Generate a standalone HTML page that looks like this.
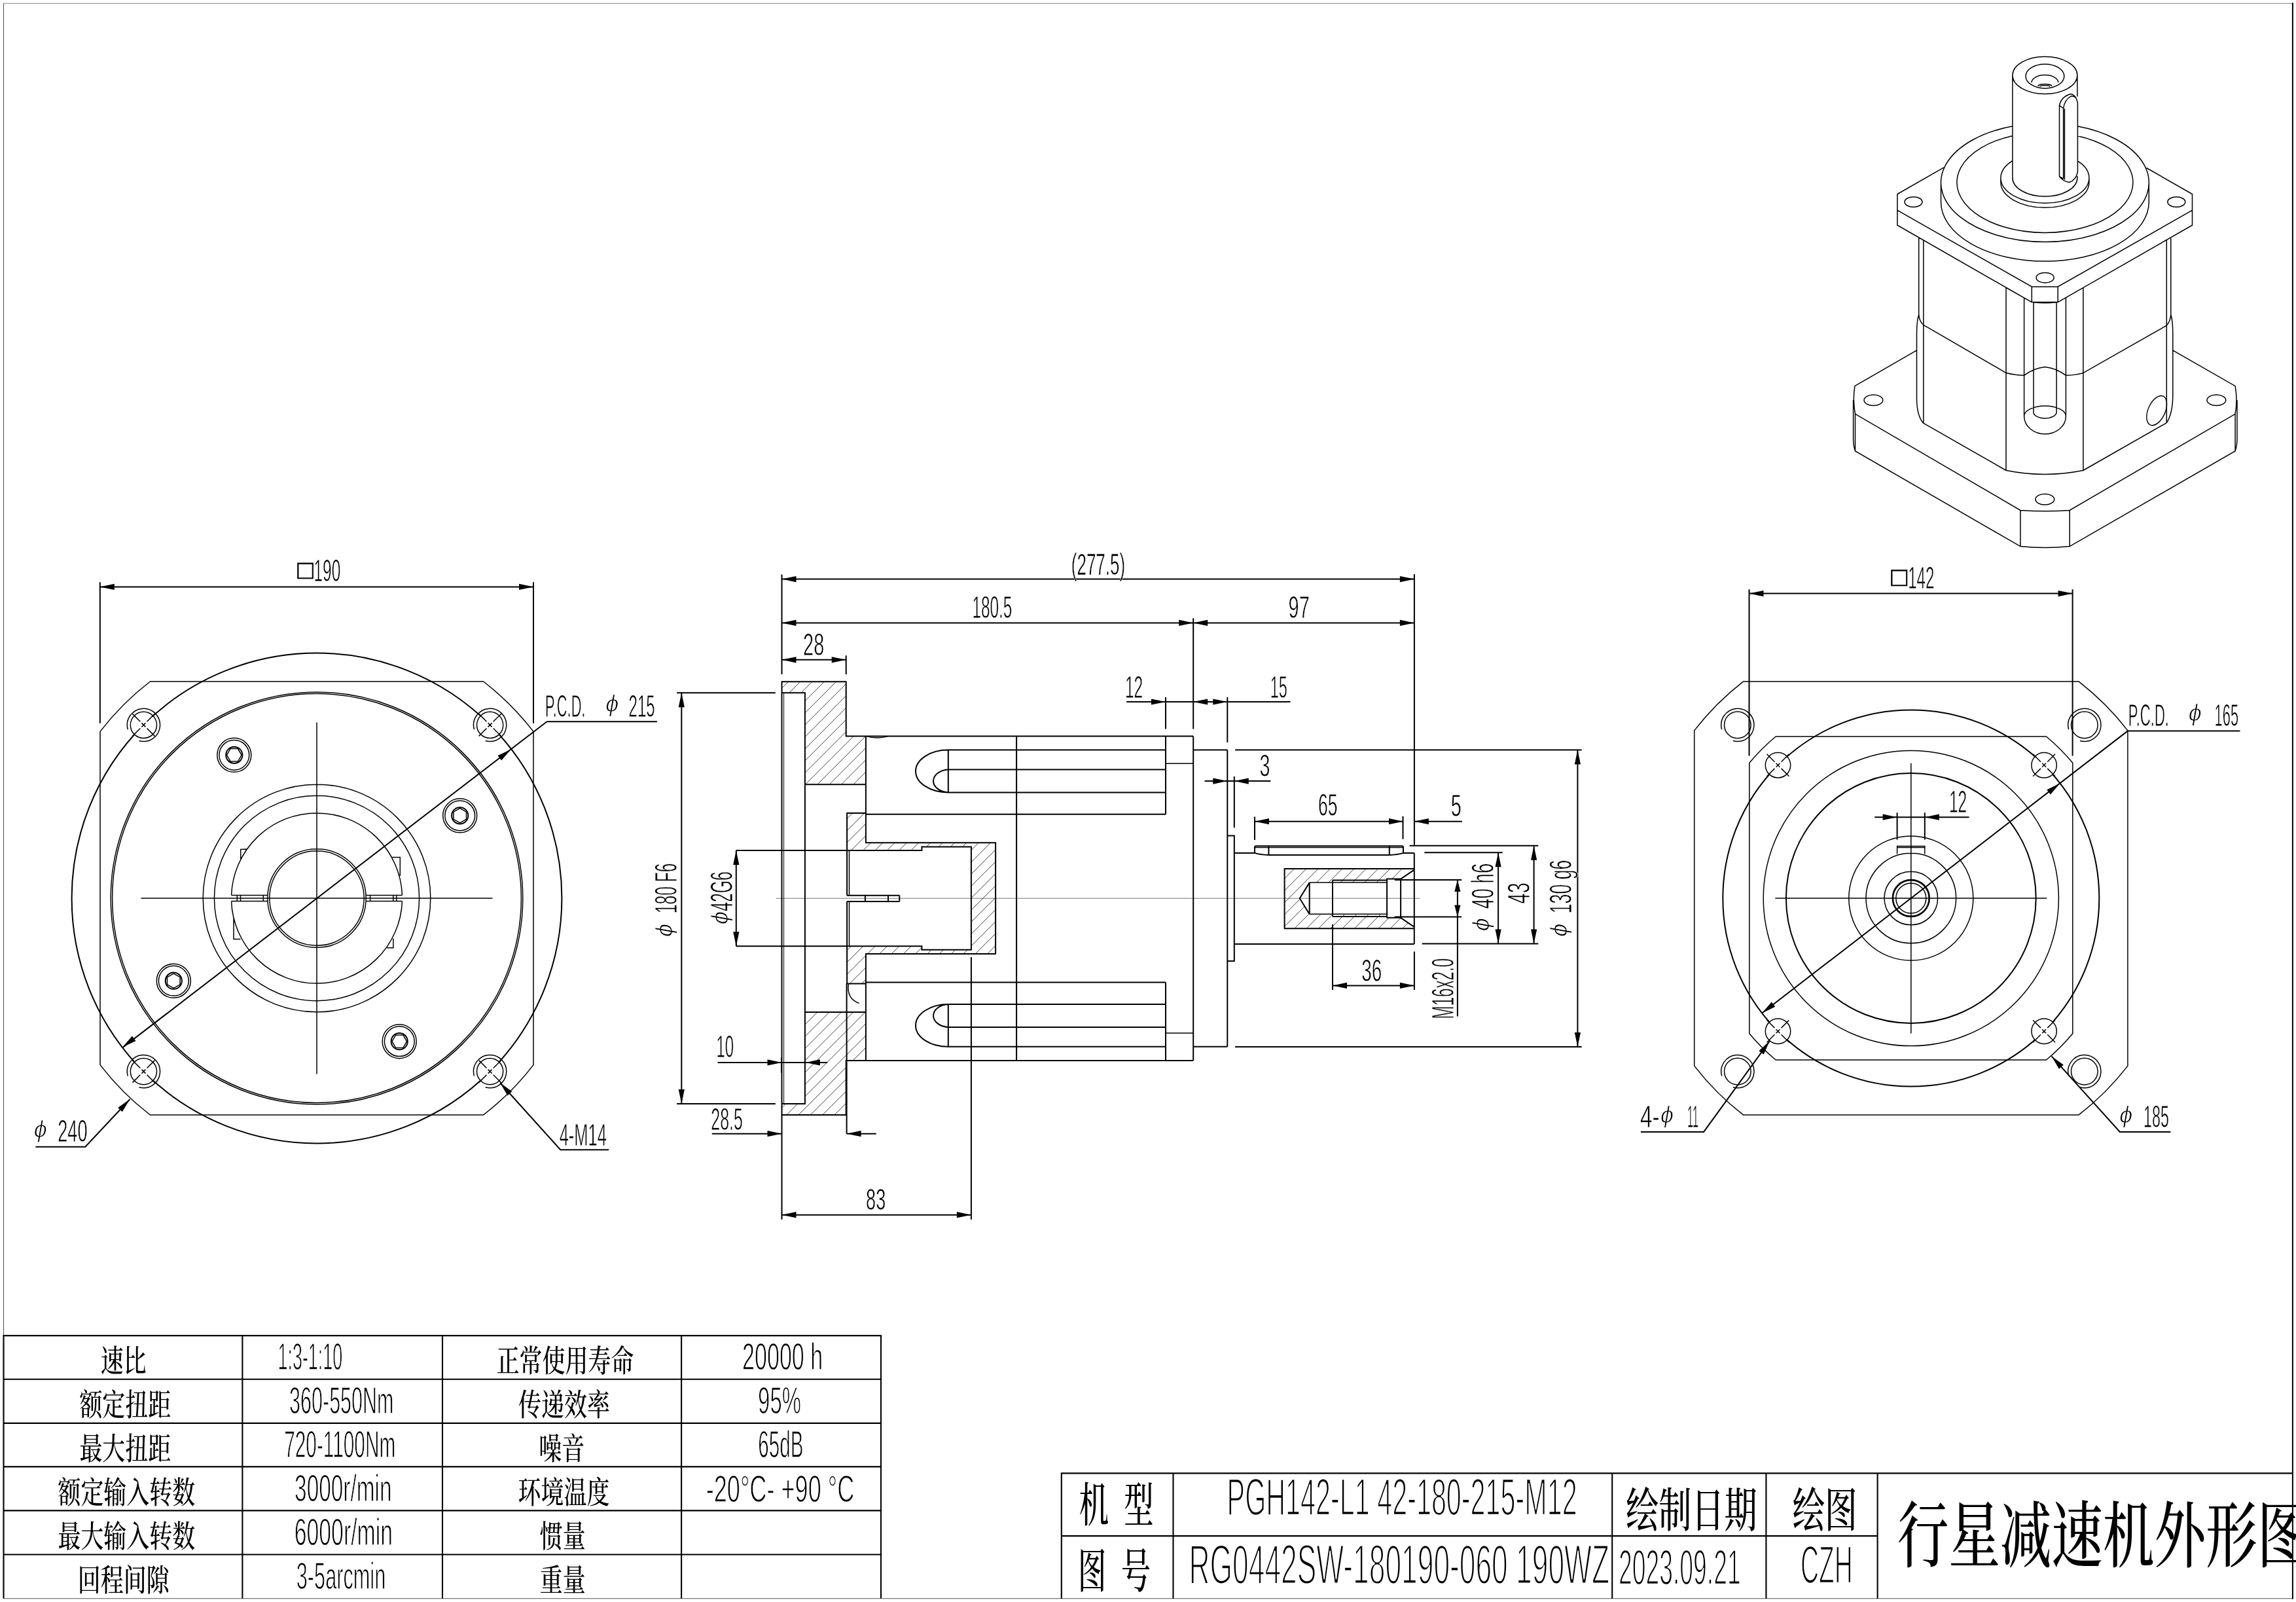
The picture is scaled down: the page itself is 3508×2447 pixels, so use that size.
<!DOCTYPE html>
<html lang="zh"><head><meta charset="utf-8"><title>行星减速机外形图</title>
<style>
html,body{margin:0;padding:0;background:#fff}
svg{display:block}
.t{font-family:"Liberation Sans",sans-serif;fill:#000;stroke:#fff}
.ph{stroke-width:0.9px}
.sq{font-family:"Liberation Sans","DejaVu Sans",sans-serif;fill:#000;stroke:#000;stroke-width:0.7px}
.c{font-family:"Liberation Serif","Noto Serif CJK SC",serif;fill:#000;font-weight:500}

</style></head><body>
<svg width="3508" height="2447" viewBox="0 0 3508 2447">
<rect width="3508" height="2447" fill="#fff"/>
<defs><clipPath id="h1"><path clip-rule="evenodd" d="M1194.5 1041.3L1292.7 1041.3L1292.7 1124.4L1322.9 1124.4L1322.9 1198.3L1229.9 1198.3L1229.9 1058.3L1194.5 1058.3Z"/></clipPath>
<clipPath id="h2"><path clip-rule="evenodd" d="M1194.5 1703.1L1292.7 1703.1L1292.7 1620L1322.9 1620L1322.9 1546.1L1229.9 1546.1L1229.9 1686.1L1194.5 1686.1Z"/></clipPath>
<clipPath id="h3"><path clip-rule="evenodd" d="M1294.1 1241.9L1322.9 1241.9L1322.9 1287.3L1521.1 1287.3L1521.1 1457.1L1322.9 1457.1L1322.9 1502.5L1294.1 1502.5L1294.1 1445.3L1408.4 1445.3L1408.4 1450.8L1483.9 1450.8L1483.9 1293.6L1408.4 1293.6L1408.4 1299.1L1294.1 1299.1Z"/></clipPath>
<clipPath id="h4"><path clip-rule="evenodd" d="M1962.6 1327.1L2160.8 1327.1L2160.8 1418.3L1962.6 1418.3ZM1985.8 1372.2L2000.7 1348.1L2119.1 1348.1L2119.1 1342.6L2140.1 1342.6L2160.8 1328.6L2160.8 1415.8L2140.1 1401.8L2119.1 1401.8L2119.1 1396.3L2000.7 1396.3Z"/></clipPath></defs>
<path fill="none" stroke="#000" stroke-width="2" d="M109.6 1372a374.4 374.4 0 1 0 748.8 0a374.4 374.4 0 1 0 -748.8 0M2632.3 1372a287.5 287.5 0 1 0 575 0a287.5 287.5 0 1 0 -575 0"/>
<path fill="#fff" stroke="none" d="M199.3 1107.4a20.1 20.1 0 1 0 40.2 0a20.1 20.1 0 1 0 -40.2 0M199.3 1636.6a20.1 20.1 0 1 0 40.2 0a20.1 20.1 0 1 0 -40.2 0M728.5 1107.4a20.1 20.1 0 1 0 40.2 0a20.1 20.1 0 1 0 -40.2 0M728.5 1636.6a20.1 20.1 0 1 0 40.2 0a20.1 20.1 0 1 0 -40.2 0M2697.3 1168.8a19.2 19.2 0 1 0 38.4 0a19.2 19.2 0 1 0 -38.4 0M2697.3 1575.2a19.2 19.2 0 1 0 38.4 0a19.2 19.2 0 1 0 -38.4 0M3103.9 1168.8a19.2 19.2 0 1 0 38.4 0a19.2 19.2 0 1 0 -38.4 0M3103.9 1575.2a19.2 19.2 0 1 0 38.4 0a19.2 19.2 0 1 0 -38.4 0"/>
<path d="M5.5 2441.7V5" stroke="#5a5a5a" stroke-width="1.1" fill="none"/>
<path d="M5 5.3H3503" stroke="#808080" stroke-width="1.1" fill="none"/>
<path d="M5.5 2441.7H3503" stroke="#777" stroke-width="1.2" fill="none"/>
<path d="M3502.9 4.3V2442.5" stroke="#000" stroke-width="2" fill="none"/>
<path clip-path="url(#h1)" fill="none" stroke="#000" stroke-width="0.75" d="M1047.4 1198.3L1204.4 1041.3M1065.7 1198.3L1222.7 1041.3M1084 1198.3L1241 1041.3M1102.3 1198.3L1259.3 1041.3M1120.6 1198.3L1277.6 1041.3M1138.9 1198.3L1295.9 1041.3M1157.2 1198.3L1314.2 1041.3M1175.5 1198.3L1332.5 1041.3M1193.8 1198.3L1350.8 1041.3M1212.1 1198.3L1369.1 1041.3M1230.4 1198.3L1387.4 1041.3M1248.7 1198.3L1405.7 1041.3M1267 1198.3L1424 1041.3M1285.3 1198.3L1442.3 1041.3M1303.6 1198.3L1460.6 1041.3M1321.9 1198.3L1478.9 1041.3"/>
<path clip-path="url(#h2)" fill="none" stroke="#000" stroke-width="0.75" d="M1055.2 1703.1L1212.2 1546.1M1073.5 1703.1L1230.5 1546.1M1091.8 1703.1L1248.8 1546.1M1110.1 1703.1L1267.1 1546.1M1128.4 1703.1L1285.4 1546.1M1146.7 1703.1L1303.7 1546.1M1165 1703.1L1322 1546.1M1183.3 1703.1L1340.3 1546.1M1201.6 1703.1L1358.6 1546.1M1219.9 1703.1L1376.9 1546.1M1238.2 1703.1L1395.2 1546.1M1256.5 1703.1L1413.5 1546.1M1274.8 1703.1L1431.8 1546.1M1293.1 1703.1L1450.1 1546.1M1311.4 1703.1L1468.4 1546.1"/>
<path clip-path="url(#h3)" fill="none" stroke="#000" stroke-width="0.75" d="M1042 1502.5L1302.6 1241.9M1060.3 1502.5L1320.9 1241.9M1078.6 1502.5L1339.2 1241.9M1096.9 1502.5L1357.5 1241.9M1115.2 1502.5L1375.8 1241.9M1133.5 1502.5L1394.1 1241.9M1151.8 1502.5L1412.4 1241.9M1170.1 1502.5L1430.7 1241.9M1188.4 1502.5L1449 1241.9M1206.7 1502.5L1467.3 1241.9M1225 1502.5L1485.6 1241.9M1243.3 1502.5L1503.9 1241.9M1261.6 1502.5L1522.2 1241.9M1279.9 1502.5L1540.5 1241.9M1298.2 1502.5L1558.8 1241.9M1316.5 1502.5L1577.1 1241.9M1334.8 1502.5L1595.4 1241.9M1353.1 1502.5L1613.7 1241.9M1371.4 1502.5L1632 1241.9M1389.7 1502.5L1650.3 1241.9M1408 1502.5L1668.6 1241.9M1426.3 1502.5L1686.9 1241.9M1444.6 1502.5L1705.2 1241.9M1462.9 1502.5L1723.5 1241.9M1481.2 1502.5L1741.8 1241.9M1499.5 1502.5L1760.1 1241.9M1517.8 1502.5L1778.4 1241.9"/>
<path clip-path="url(#h4)" fill="none" stroke="#000" stroke-width="0.75" d="M1886.3 1418.3L1977.5 1327.1M1904.6 1418.3L1995.8 1327.1M1922.9 1418.3L2014.1 1327.1M1941.2 1418.3L2032.4 1327.1M1959.5 1418.3L2050.7 1327.1M1977.8 1418.3L2069 1327.1M1996.1 1418.3L2087.3 1327.1M2014.4 1418.3L2105.6 1327.1M2032.7 1418.3L2123.9 1327.1M2051 1418.3L2142.2 1327.1M2069.3 1418.3L2160.5 1327.1M2087.6 1418.3L2178.8 1327.1M2105.9 1418.3L2197.1 1327.1M2124.2 1418.3L2215.4 1327.1M2142.5 1418.3L2233.7 1327.1"/>
<path fill="none" stroke="#000" stroke-width="1" d="M1197.6 1058.3L1197.6 1686.1"/>
<circle cx="2919.8" cy="1372" r="27.9" fill="none" stroke="#000" stroke-width="2.6"/>
<ellipse cx="3295.2" cy="627.1" rx="13" ry="24" transform="rotate(24 3295.2 627.1)" fill="none" stroke="#000" stroke-width="1.4"/>
<path fill="none" stroke="#000" stroke-width="2.1" d="M5.5 2039.1L5.5 2441.6M370.4 2039.1L370.4 2441.6M676 2039.1L676 2441.6M1041.1 2039.1L1041.1 2441.6M1346 2039.1L1346 2441.6M4.5 2040.1L1347 2040.1M4.5 2106.8L1347 2106.8M4.5 2173.9L1347 2173.9M4.5 2240.4L1347 2240.4M4.5 2307.4L1347 2307.4M4.5 2374.5L1347 2374.5M1621.8 2250.4L3504 2250.4M1621.8 2249.4L1621.8 2441.7M1621.8 2346.1L2868.6 2346.1M1792.5 2250.4L1792.5 2441.7M2463.2 2250.4L2463.2 2441.7M2698.4 2250.4L2698.4 2441.7M2868.6 2250.4L2868.6 2441.7"/>
<path fill="none" stroke="#000" stroke-width="0.55" d="M1185.6 1372.2L2169.3 1372.2"/>
<path fill="none" stroke="#000" stroke-width="1.5" d="M229.4 1041L738.6 1041A417.6 417.6 0 0 1 815 1117.4L815 1626.6A417.6 417.6 0 0 1 738.6 1703L229.4 1703A417.6 417.6 0 0 1 153 1626.6L153 1117.4A417.6 417.6 0 0 1 229.4 1041ZM169.2 1372a314.8 314.8 0 1 0 629.6 0a314.8 314.8 0 1 0 -629.6 0M171.6 1372a312.4 312.4 0 1 0 624.8 0a312.4 312.4 0 1 0 -624.8 0M310.2 1372a173.8 173.8 0 1 0 347.6 0a173.8 173.8 0 1 0 -347.6 0M327.4 1372a156.6 156.6 0 1 0 313.2 0a156.6 156.6 0 1 0 -313.2 0M408.8 1372a75.2 75.2 0 1 0 150.4 0a75.2 75.2 0 1 0 -150.4 0M411.8 1372a72.2 72.2 0 1 0 144.4 0a72.2 72.2 0 1 0 -144.4 0M353.5 1367.4A130.6 130.6 0 0 1 614.5 1367.4M614.5 1376.6A130.6 130.6 0 0 1 353.5 1376.6M353.5 1367.4L408.9 1367.4M559.1 1367.4L614.5 1367.4M353.5 1376.6L408.9 1376.6M559.1 1376.6L614.5 1376.6M362.3 1367.4L362.3 1376.6M367.5 1367.4L367.5 1376.6M402.3 1367.4L402.3 1376.6M565.6 1367.4L565.6 1376.6M600.8 1367.4L600.8 1376.6M605.7 1367.4L605.7 1376.6M367.7 1312L367.7 1297.5L376.7 1296.9M599.5 1309.5L611.3 1309.5L611.3 1338M357 1401.8L357 1434.5L367.3 1434.5M600.9 1433.6L600.9 1447.7L591.1 1447.7M215.5 1372L752.5 1372M484 1103.5L484 1640.5M199.3 1107.4a20.1 20.1 0 1 0 40.2 0a20.1 20.1 0 1 0 -40.2 0M195.3 1114.3A25.1 25.1 0 1 1 212.5 1131.5M224.5 1112.5L236.4 1124.4M224.5 1102.3L236.4 1090.4M214.3 1112.5L202.4 1124.4M214.3 1102.3L202.4 1090.4M216.4 1104.4L222.4 1110.4M216.4 1110.4L222.4 1104.4M199.3 1636.6a20.1 20.1 0 1 0 40.2 0a20.1 20.1 0 1 0 -40.2 0M195.3 1643.5A25.1 25.1 0 1 1 212.5 1660.7M224.5 1641.7L236.4 1653.6M224.5 1631.5L236.4 1619.6M214.3 1641.7L202.4 1653.6M214.3 1631.5L202.4 1619.6M216.4 1633.6L222.4 1639.6M216.4 1639.6L222.4 1633.6M728.5 1107.4a20.1 20.1 0 1 0 40.2 0a20.1 20.1 0 1 0 -40.2 0M724.5 1114.3A25.1 25.1 0 1 1 741.7 1131.5M753.7 1112.5L765.6 1124.4M753.7 1102.3L765.6 1090.4M743.5 1112.5L731.6 1124.4M743.5 1102.3L731.6 1090.4M745.6 1104.4L751.6 1110.4M745.6 1110.4L751.6 1104.4M728.5 1636.6a20.1 20.1 0 1 0 40.2 0a20.1 20.1 0 1 0 -40.2 0M724.5 1643.5A25.1 25.1 0 1 1 741.7 1660.7M753.7 1641.7L765.6 1653.6M753.7 1631.5L765.6 1619.6M743.5 1641.7L731.6 1653.6M743.5 1631.5L731.6 1619.6M745.6 1633.6L751.6 1639.6M745.6 1639.6L751.6 1633.6M676.7 1245.8a26 26 0 1 0 52 0a26 26 0 1 0 -52 0M679.8 1245.8a22.9 22.9 0 1 0 45.8 0a22.9 22.9 0 1 0 -45.8 0M712.5 1251.4L702.7 1257L692.9 1251.4L692.9 1240.1L702.7 1234.5L712.5 1240.1ZM331.8 1153.3a26 26 0 1 0 52 0a26 26 0 1 0 -52 0M334.9 1153.3a22.9 22.9 0 1 0 45.8 0a22.9 22.9 0 1 0 -45.8 0M352.1 1163.1L346.5 1153.3L352.1 1143.5L363.4 1143.5L369.1 1153.3L363.4 1163.1ZM239.3 1498.2a26 26 0 1 0 52 0a26 26 0 1 0 -52 0M242.4 1498.2a22.9 22.9 0 1 0 45.8 0a22.9 22.9 0 1 0 -45.8 0M255.5 1492.6L265.3 1487L275.1 1492.6L275.1 1503.9L265.3 1509.5L255.5 1503.9ZM584.2 1590.7a26 26 0 1 0 52 0a26 26 0 1 0 -52 0M587.4 1590.7a22.9 22.9 0 1 0 45.8 0a22.9 22.9 0 1 0 -45.8 0M615.9 1580.9L621.5 1590.7L615.9 1600.5L604.6 1600.5L599 1590.7L604.6 1580.9ZM1297.5 1299.1L1297.5 1367.8M1297.5 1376.9L1297.5 1445.3M1781 1166.3L1823.2 1166.3M1781 1578.1L1823.2 1578.1M1918 1294.4L2143 1294.4M2000.7 1348.1L2119.1 1348.1M2000.7 1396.3L2119.1 1396.3M1322.9 1124.4Q1340.3 1129.5 1357.8 1124.4M1296.5 1502.8Q1293 1525 1312.5 1532.5M2663.7 1040.9L3175.9 1040.9A418.6 418.6 0 0 1 3250.9 1115.9L3250.9 1628.1A418.6 418.6 0 0 1 3175.9 1703.1L2663.7 1703.1A418.6 418.6 0 0 1 2588.7 1628.1L2588.7 1115.9A418.6 418.6 0 0 1 2663.7 1040.9ZM2713.1 1125L3126.5 1125A322.1 322.1 0 0 1 3166.8 1165.3L3166.8 1578.7A322.1 322.1 0 0 1 3126.5 1619L2713.1 1619A322.1 322.1 0 0 1 2672.8 1578.7L2672.8 1165.3A322.1 322.1 0 0 1 2713.1 1125ZM2694.2 1372a225.6 225.6 0 1 0 451.2 0a225.6 225.6 0 1 0 -451.2 0M2824.8 1372a95 95 0 1 0 190 0a95 95 0 1 0 -190 0M2851 1372a68.8 68.8 0 1 0 137.6 0a68.8 68.8 0 1 0 -137.6 0M2879 1372a40.8 40.8 0 1 0 81.6 0a40.8 40.8 0 1 0 -81.6 0M2896.8 1372a23 23 0 1 0 46 0a23 23 0 1 0 -46 0M2712.3 1372L3127.3 1372M2919.8 1165.8L2919.8 1578.5M2634.5 1107.4a20.3 20.3 0 1 0 40.6 0a20.3 20.3 0 1 0 -40.6 0M2630.7 1114.3A25.1 25.1 0 1 1 2647.9 1131.5M2697.3 1168.8a19.2 19.2 0 1 0 38.4 0a19.2 19.2 0 1 0 -38.4 0M2721.6 1173.9L2733.5 1185.8M2721.6 1163.7L2733.5 1151.8M2711.4 1173.9L2699.5 1185.8M2711.4 1163.7L2699.5 1151.8M2713.5 1165.8L2719.5 1171.8M2713.5 1171.8L2719.5 1165.8M2634.5 1636.6a20.3 20.3 0 1 0 40.6 0a20.3 20.3 0 1 0 -40.6 0M2630.7 1643.5A25.1 25.1 0 1 1 2647.9 1660.7M2697.3 1575.2a19.2 19.2 0 1 0 38.4 0a19.2 19.2 0 1 0 -38.4 0M2721.6 1580.3L2733.5 1592.2M2721.6 1570.1L2733.5 1558.2M2711.4 1580.3L2699.5 1592.2M2711.4 1570.1L2699.5 1558.2M2713.5 1572.2L2719.5 1578.2M2713.5 1578.2L2719.5 1572.2M3164.5 1107.4a20.3 20.3 0 1 0 40.6 0a20.3 20.3 0 1 0 -40.6 0M3160.7 1114.3A25.1 25.1 0 1 1 3177.9 1131.5M3103.9 1168.8a19.2 19.2 0 1 0 38.4 0a19.2 19.2 0 1 0 -38.4 0M3128.2 1173.9L3140.1 1185.8M3128.2 1163.7L3140.1 1151.8M3118 1173.9L3106.1 1185.8M3118 1163.7L3106.1 1151.8M3120.1 1165.8L3126.1 1171.8M3120.1 1171.8L3126.1 1165.8M3164.5 1636.6a20.3 20.3 0 1 0 40.6 0a20.3 20.3 0 1 0 -40.6 0M3160.7 1643.5A25.1 25.1 0 1 1 3177.9 1660.7M3103.9 1575.2a19.2 19.2 0 1 0 38.4 0a19.2 19.2 0 1 0 -38.4 0M3128.2 1580.3L3140.1 1592.2M3128.2 1570.1L3140.1 1558.2M3118 1580.3L3106.1 1592.2M3118 1570.1L3106.1 1558.2M3120.1 1572.2L3126.1 1578.2M3120.1 1578.2L3126.1 1572.2M2898.6 1304.5L2898.6 1292.4L2940.8 1292.4L2940.8 1304.5M2898.6 1294.4L2940.8 1294.4M3074.9 115a49.5 28.4 0 1 0 99 0a49.5 28.4 0 1 0 -99 0M3095 116.4a29.4 18.5 0 1 0 58.8 0a29.4 18.5 0 1 0 -58.8 0M3104.1 125.9A20.3 11.5 0 0 1 3144.7 125.9M3113.9 131.8A10.5 3.2 0 1 1 3134.9 131.8M3116.9 132.6A7.5 2.2 0 0 1 3131.9 132.6M3074.9 115L3074.9 271.7M3173.9 115L3173.9 147.5M3173.9 269L3173.9 271.7M3173.9 271.7A49.5 28.4 0 0 1 3074.9 271.7M3146.5 269.6V161.1Q3149 148 3163.7 143.5Q3171.5 144.5 3174.4 157V262.7Q3172 275 3161.7 278.5Q3152 277 3146.5 269.6ZM3152.6 273V165.5Q3154.5 152 3164.4 146.8Q3169 146.8 3172.5 149.5M3154.4 274.5V166M3146.5 161.1L3152.6 165.5M3146.5 269.6L3152.6 273M3174 245.6A67.5 38.5 0 1 1 3074.8 245.6M3191.9 278.6A67.5 38.5 0 0 1 3056.9 278.6M3056.9 271.7L3056.9 278.6M3191.9 271.7L3191.9 278.6M3174 192.8A158.9 90.6 0 1 1 3074.8 192.8M3173.9 207.4A134.5 76.7 0 1 1 3074.9 207.4M3283.3 308.5A158.9 90.6 0 0 1 2965.5 308.5M2965.5 278.9L2965.5 308.5M3283.3 278.9L3283.3 308.5M2969.9 255.8L2898.9 296.5L2898.9 344L3104.3 461.6L3144.2 461.6L3349.5 344L3349.5 296.5L3279.6 256.5M2898.9 321.2L3104.3 437.9L3144.2 437.9L3349.5 321.2M3104.3 437.9L3104.3 461.6M3144.2 437.9L3144.2 461.6M2910 308.5a13.5 7.8 0 1 0 27 0a13.5 7.8 0 1 0 -27 0M3311.8 308.5a13.5 7.8 0 1 0 27 0a13.5 7.8 0 1 0 -27 0M3111.1 424.2a13.5 7.8 0 1 0 27 0a13.5 7.8 0 1 0 -27 0M2931.7 362.8L2931.7 480.5M2938.8 366.9L2938.8 646.4M2931.7 480.5Q2932.5 491 2938.8 496.3M2931.7 480.5Q2928.5 490 2928.5 510V610Q2929 636 2938.8 646.4M3316.8 362.8L3316.8 480.5M3310.3 366.9L3310.3 645.8M3316.8 480.5Q3316 491 3310.3 497.2M3316.8 480.5Q3319.8 490 3319.8 510V605Q3319.5 632 3310.3 645.8M2938.8 496.3L3065 569.6Q3080 573.5 3092.6 573.3Q3108 562 3124.4 560.4Q3141 562 3156.4 573.3Q3169 573.5 3182.9 569.6L3310.3 497.2M3065 439.4L3065 718.5M3182.9 439.4L3182.9 718.5M3065 439.4L3104.3 461.6M3182.9 439.4L3144.2 461.6M3065 718.5Q3124 730.5 3182.9 718.5M2938.8 646.4L3065 718.5M3182.9 718.5L3310.3 645.8M3092.6 455L3092.6 635.7M3156.4 455L3156.4 635.7M3156.4 635.7A31.9 27.3 0 0 1 3092.6 635.7M3092.6 635.7A31.9 15.8 0 0 1 3156.4 635.7M3107 461.8L3107 629.4M3142.1 461.8L3142.1 629.4M3142.1 629.4A17.6 9.5 0 0 1 3106.9 629.4M3107 461.8Q3124.5 463.5 3142.1 461.8M2928.5 535.1L2833.9 589.7M2833.9 589.7Q2830.5 611 2834.5 632.3L3086.9 779.4Q3124.5 782.2 3162.2 779.4L3415.1 632.3Q3419 611 3415.1 589.7L3319.8 535.1M2831.6 611V672Q2832 682 2834.5 688.9L3086.9 834.6Q3124.5 838.4 3162.2 834.6L3415.1 688.9Q3417.6 682 3418 672V611M2834.5 632.3L2834.5 688.9M3086.9 779.4L3086.9 834.6M3162.2 779.4L3162.2 834.6M3415.1 632.3L3415.1 688.9M2848 611.3a14.4 8.3 0 1 0 28.8 0a14.4 8.3 0 1 0 -28.8 0M3372 611.3a14.4 8.3 0 1 0 28.8 0a14.4 8.3 0 1 0 -28.8 0M3109.9 762.8a14.4 8.3 0 1 0 28.8 0a14.4 8.3 0 1 0 -28.8 0"/>
<path fill="none" stroke="#000" stroke-width="2" d="M690.1 1245.8a12.6 12.6 0 1 0 25.2 0a12.6 12.6 0 1 0 -25.2 0M345.2 1153.3a12.6 12.6 0 1 0 25.2 0a12.6 12.6 0 1 0 -25.2 0M252.7 1498.2a12.6 12.6 0 1 0 25.2 0a12.6 12.6 0 1 0 -25.2 0M597.6 1590.7a12.6 12.6 0 1 0 25.2 0a12.6 12.6 0 1 0 -25.2 0M152.8 889.3L152.8 1104.7M815 889.3L815 1104.7M152.8 896.4L815 896.4M188 1599.6L835.6 1102.2M835.6 1102.2L1003.9 1102.2M54.3 1751.7L130.3 1751.7L198.5 1679M930.2 1756.2L856.3 1756.2L764.1 1654M1194.5 1041.3L1292.7 1041.3L1292.7 1124.4L1322.9 1124.4L1322.9 1198.3L1229.9 1198.3L1229.9 1058.3L1194.5 1058.3ZM1194.5 1703.1L1292.7 1703.1L1292.7 1620L1322.9 1620L1322.9 1546.1L1229.9 1546.1L1229.9 1686.1L1194.5 1686.1ZM1194.5 1041.3L1194.5 1703.1M1229.9 1058.3L1229.9 1686.1M1292.7 1124.4L1823.2 1124.4M1292.7 1620L1823.2 1620M1823.2 1124.4L1823.2 1620M1553.1 1124.4L1553.1 1620M1322.9 1124.4L1322.9 1287.3M1322.9 1457.1L1322.9 1620M1294.1 1241.9L1322.9 1241.9L1322.9 1287.3L1521.1 1287.3L1521.1 1457.1L1322.9 1457.1L1322.9 1502.5L1294.1 1502.5L1294.1 1445.3L1408.4 1445.3L1408.4 1450.8L1483.9 1450.8L1483.9 1293.6L1408.4 1293.6L1408.4 1299.1L1294.1 1299.1ZM1294.1 1299.1L1294.1 1367.8M1294.1 1376.9L1294.1 1445.3M1294.1 1367.8L1374.3 1367.8M1294.1 1376.9L1374.3 1376.9M1321.9 1367.8L1321.9 1376.9M1357 1367.8L1357 1376.9M1374.3 1367.8L1374.3 1376.9M1124.8 1299.1L1294.1 1299.1M1124.8 1445.3L1294.1 1445.3M1293.6 1502.5L1293.6 1731.7M1448.8 1145.6L1781 1145.6M1448.8 1175.5L1781 1175.5M1448.8 1210.4L1781 1210.4M1322.9 1243.8L1781 1243.8M1448.8 1145.6L1448.8 1210.4M1448.8 1145.6A49.8 32.4 0 0 0 1448.8 1210.4M1448.8 1175.5A24.6 17.5 0 0 0 1448.8 1210.4M1448.8 1598.8L1781 1598.8M1448.8 1568.9L1781 1568.9M1448.8 1534L1781 1534M1322.9 1500.6L1781 1500.6M1448.8 1598.8L1448.8 1534M1448.8 1598.8A49.8 32.4 0 0 1 1448.8 1534M1448.8 1568.9A24.6 17.5 0 0 1 1448.8 1534M1781 1124.4L1781 1243.8M1781 1500.6L1781 1620M1823.2 1145.6L1875.3 1145.6M1823.2 1598.8L1875.3 1598.8M1875.3 1145.6L1875.3 1598.8M1875.3 1276.5L1885.8 1276.5L1885.8 1467.9L1875.3 1467.9M1885.8 1302.9L1917 1302.9M1885.8 1441.9L2160.8 1441.9M2160.8 1302.9L2160.8 1441.9M2144 1302.9L2160.8 1302.9M1917 1302.9V1294.1Q1917 1292.2 1919 1292.2H2142Q2144 1292.2 2144 1294.1V1302.9M1917 1302.9Q1925 1305.6 1938.4 1305.9H2122.8Q2136 1305.6 2144 1302.9M1938.4 1292.2L1938.4 1305.9M2122.8 1292.2L2122.8 1305.9M1962.6 1327.1L2160.8 1327.1L2160.8 1418.3L1962.6 1418.3ZM2000.7 1348.1L1985.8 1372.2L2000.7 1396.3M2000.7 1348.1L2000.7 1396.3M2036 1344.5L2119.1 1344.5M2036 1399.9L2119.1 1399.9M2036 1344.5L2036 1399.9M2119.1 1342.6L2140.1 1342.6L2140.1 1401.8L2119.1 1401.8ZM2140.1 1342.6L2160.8 1328.6M2140.1 1401.8L2160.8 1415.8M1294.1 1502.5L1322.9 1502.5M1194.5 877.5L1194.5 1030M2160.9 877L2160.9 1290.4M1194.5 884.6L2160.9 884.6M1194.5 951.4L2160.9 951.4M1823.2 944.3L1823.2 1113.4M1194.5 1007.8L1292.7 1007.8M1292.7 1001.2L1292.7 1030M1721.2 1072L1971.5 1072M1781 1064.9L1781 1113.4M1875.3 1064.9L1875.3 1134.1M1840.5 1193.1L1941.4 1193.1M1885.8 1186L1885.8 1264.2M1917 1254.7L2144 1254.7M1917 1247.6L1917 1283M2143.5 1246.8L2143.5 1281.7M2160.9 1254.7L2233.9 1254.7M2036 1505.4L2160.9 1505.4M2036 1412L2036 1511.9M2160.9 1453.6L2160.9 1511.9M1096.5 1622.9L1264.2 1622.9M1194 1615.6L1194 1638.6M1087.8 1731.7L1194.5 1731.7M1293.6 1731.7L1338.7 1731.7M1194.5 1702.9L1194.5 1862.8M1483.9 1462.1L1483.9 1862.8M1194.5 1855.7L1483.9 1855.7M1034.1 1058.3L1184.8 1058.3M1034.1 1686.1L1184.8 1686.1M1041.3 1058.3L1041.3 1686.1M1124.8 1299.1L1124.8 1445.3M1887.1 1145.5L2416.7 1145.5M1887.1 1598.9L2416.7 1598.9M2410.4 1145.5L2410.4 1598.9M2153.6 1291.8L2350.3 1291.8M2172.8 1441.6L2350.3 1441.6M2343.6 1291.8L2343.6 1441.6M2176.3 1302.3L2295.8 1302.3M2289.1 1302.3L2289.1 1441.6M2130.7 1344L2233.2 1344M2130.7 1400.6L2233.2 1400.6M2226.9 1344L2226.9 1552.5M2728.9 1372a190.9 190.9 0 1 0 381.8 0a190.9 190.9 0 1 0 -381.8 0M2672.5 900.3L2672.5 1154.6M3166.6 900.3L3166.6 1154.6M2672.5 906.6L3166.6 906.6M2898.6 1241.2L2898.6 1282.4M2940.8 1241.2L2940.8 1282.4M2864.2 1248.2L3008.6 1248.2M2692.1 1547.5L3251 1116.4M3251 1116.4L3422.5 1116.4M2506.9 1728.9L2603.1 1728.9L2703.9 1590.1M3316.4 1728.9L3238.9 1728.9L3134.6 1613.4"/>
<path fill="#000" stroke="none" d="M152.8 896.4L174.8 891.8L174.8 901ZM815 896.4L793 901L793 891.8ZM187.2 1599.6L201.9 1582.6L207.5 1589.9ZM780.8 1144.4L766.1 1161.4L760.5 1154.1ZM198.5 1679L186.8 1698.2L180.1 1691.9ZM764.1 1654L782.3 1667.3L775.4 1673.4ZM1194.5 884.6L1216.5 880L1216.5 889.2ZM2160.9 884.6L2138.9 889.2L2138.9 880ZM1194.5 951.4L1216.5 946.8L1216.5 956ZM1823.2 951.4L1801.2 956L1801.2 946.8ZM1823.2 951.4L1845.2 946.8L1845.2 956ZM2160.9 951.4L2138.9 956L2138.9 946.8ZM1194.5 1007.8L1216.5 1003.2L1216.5 1012.4ZM1292.7 1007.8L1270.7 1012.4L1270.7 1003.2ZM1781 1072L1759 1076.6L1759 1067.4ZM1823.2 1072L1845.2 1067.4L1845.2 1076.6ZM1875.3 1072L1853.3 1076.6L1853.3 1067.4ZM1875.3 1193.1L1853.3 1197.7L1853.3 1188.5ZM1885.8 1193.1L1907.8 1188.5L1907.8 1197.7ZM1917 1254.7L1939 1250.1L1939 1259.3ZM2144 1254.7L2122 1259.3L2122 1250.1ZM2160.9 1254.7L2182.9 1250.1L2182.9 1259.3ZM2036 1505.4L2058 1500.8L2058 1510ZM2160.9 1505.4L2138.9 1510L2138.9 1500.8ZM1194.5 1622.9L1172.5 1627.5L1172.5 1618.3ZM1230.9 1622.9L1252.9 1618.3L1252.9 1627.5ZM1194.5 1731.7L1172.5 1736.3L1172.5 1727.1ZM1293.6 1731.7L1315.6 1727.1L1315.6 1736.3ZM1194.5 1855.7L1216.5 1851.1L1216.5 1860.3ZM1483.9 1855.7L1461.9 1860.3L1461.9 1851.1ZM1041.3 1058.3L1045.9 1080.3L1036.7 1080.3ZM1041.3 1686.1L1036.7 1664.1L1045.9 1664.1ZM1124.8 1299.1L1129.4 1321.1L1120.2 1321.1ZM1124.8 1445.3L1120.2 1423.3L1129.4 1423.3ZM2410.4 1145.5L2415 1167.5L2405.8 1167.5ZM2410.4 1598.9L2405.8 1576.9L2415 1576.9ZM2343.6 1291.8L2348.2 1313.8L2339 1313.8ZM2343.6 1441.6L2339 1419.6L2348.2 1419.6ZM2289.1 1302.3L2293.7 1324.3L2284.5 1324.3ZM2289.1 1441.6L2284.5 1419.6L2293.7 1419.6ZM2226.9 1344L2231.5 1362L2222.3 1362ZM2226.9 1400.6L2222.3 1382.6L2231.5 1382.6ZM2672.5 906.6L2694.5 902L2694.5 911.2ZM3166.6 906.6L3144.6 911.2L3144.6 902ZM2898.6 1248.2L2876.6 1252.8L2876.6 1243.6ZM2940.8 1248.2L2962.8 1243.6L2962.8 1252.8ZM2692.1 1547.5L2706.7 1530.5L2712.3 1537.7ZM3147.5 1196.5L3132.9 1213.5L3127.3 1206.3ZM2703.9 1590.1L2694.7 1610.6L2687.3 1605.2ZM3134.6 1613.4L3152.8 1626.6L3145.9 1632.8Z"/>
<g opacity="0.999">
<text class="t" font-size="47.6" stroke-width="0.77" textLength="79.5" lengthAdjust="spacingAndGlyphs" transform="translate(479.5 888.2) scale(0.512 1)">190</text>
<text class="sq" font-size="40.3" x="454.6" y="884.1">□</text>
<text class="t" font-size="47.6" stroke-width="0.77" textLength="140.3" lengthAdjust="spacingAndGlyphs" transform="translate(833.1 1094.6) scale(0.437 1)">P.C.D.</text>
<text class="t ph" font-size="36" text-anchor="middle" transform="translate(935.4 1093.2) skewX(-10)" x="-2.8" y="-5.8">ϕ</text>
<text class="t" font-size="47.6" stroke-width="0.77" textLength="79.5" lengthAdjust="spacingAndGlyphs" transform="translate(960.6 1094.6) scale(0.503 1)">215</text>
<text class="t ph" font-size="36" text-anchor="middle" transform="translate(61.8 1742.7) skewX(-10)" x="-2.8" y="-5.8">ϕ</text>
<text class="t" font-size="47.6" stroke-width="0.77" textLength="79.5" lengthAdjust="spacingAndGlyphs" transform="translate(88.3 1744.1) scale(0.568 1)">240</text>
<text class="t" font-size="47.6" stroke-width="0.77" textLength="135" lengthAdjust="spacingAndGlyphs" transform="translate(854.7 1749.6) scale(0.534 1)">4-M14</text>
<text class="t" font-size="46" stroke-width="0.65" textLength="145.8" lengthAdjust="spacingAndGlyphs" transform="translate(1636.8 878) scale(0.565 1)">(277.5)</text>
<text class="t" font-size="47.6" stroke-width="0.77" textLength="119.2" lengthAdjust="spacingAndGlyphs" transform="translate(1485.4 943.9) scale(0.512 1)">180.5</text>
<text class="t" font-size="47.6" stroke-width="0.77" textLength="53" lengthAdjust="spacingAndGlyphs" transform="translate(1968.6 943.6) scale(0.605 1)">97</text>
<text class="t" font-size="47.6" stroke-width="0.77" textLength="53" lengthAdjust="spacingAndGlyphs" transform="translate(1227.1 1000.8) scale(0.605 1)">28</text>
<text class="t" font-size="47.6" stroke-width="0.77" textLength="53" lengthAdjust="spacingAndGlyphs" transform="translate(1718.9 1065.5) scale(0.515 1)">12</text>
<text class="t" font-size="47.6" stroke-width="0.77" textLength="53" lengthAdjust="spacingAndGlyphs" transform="translate(1940.7 1065.5) scale(0.496 1)">15</text>
<text class="t" font-size="47.6" stroke-width="0.77" textLength="26.5" lengthAdjust="spacingAndGlyphs" transform="translate(1924.4 1186.1) scale(0.601 1)">3</text>
<text class="t" font-size="47.6" stroke-width="0.77" textLength="53" lengthAdjust="spacingAndGlyphs" transform="translate(2014 1246.4) scale(0.559 1)">65</text>
<text class="t" font-size="47.6" stroke-width="0.77" textLength="26.5" lengthAdjust="spacingAndGlyphs" transform="translate(2216.8 1247.4) scale(0.610 1)">5</text>
<text class="t" font-size="47.6" stroke-width="0.77" textLength="53" lengthAdjust="spacingAndGlyphs" transform="translate(2080.3 1498.9) scale(0.586 1)">36</text>
<text class="t" font-size="47.6" stroke-width="0.77" textLength="53" lengthAdjust="spacingAndGlyphs" transform="translate(1094.5 1615.1) scale(0.503 1)">10</text>
<text class="t" font-size="47.6" stroke-width="0.77" textLength="92.7" lengthAdjust="spacingAndGlyphs" transform="translate(1086.3 1725.7) scale(0.524 1)">28.5</text>
<text class="t" font-size="46" stroke-width="0.65" textLength="51.2" lengthAdjust="spacingAndGlyphs" transform="translate(1323.1 1848.3) scale(0.587 1)">83</text>
<text class="t ph" font-size="36" text-anchor="middle" transform="translate(1033 1421) rotate(-90) skewX(-10)" x="-2.8" y="-5.8">ϕ</text>
<text class="t" font-size="47.6" stroke-width="0.77" textLength="148.3" lengthAdjust="spacingAndGlyphs" transform="translate(1034.4 1395.1) rotate(-90) scale(0.515 1)">180 F6</text>
<text class="t ph" font-size="36" text-anchor="middle" transform="translate(1118 1402) rotate(-90) skewX(-10)" x="-2.8" y="-5.8">ϕ</text>
<text class="t" font-size="47.6" stroke-width="0.77" textLength="116.5" lengthAdjust="spacingAndGlyphs" transform="translate(1119.4 1391.8) rotate(-90) scale(0.521 1)">42G6</text>
<text class="t ph" font-size="36" text-anchor="middle" transform="translate(2281 1412.2) rotate(-90) skewX(-10)" x="-2.8" y="-5.8">ϕ</text>
<text class="t" font-size="47.6" stroke-width="0.77" textLength="119.2" lengthAdjust="spacingAndGlyphs" transform="translate(2282.4 1387.9) rotate(-90) scale(0.581 1)">40 h6</text>
<text class="t" font-size="47.6" stroke-width="0.77" textLength="53" lengthAdjust="spacingAndGlyphs" transform="translate(2336.6 1380.4) rotate(-90) scale(0.606 1)">43</text>
<text class="t ph" font-size="36" text-anchor="middle" transform="translate(2400 1420.6) rotate(-90) skewX(-10)" x="-2.8" y="-5.8">ϕ</text>
<text class="t" font-size="47.6" stroke-width="0.77" textLength="145.7" lengthAdjust="spacingAndGlyphs" transform="translate(2401.4 1395.3) rotate(-90) scale(0.561 1)">130 g6</text>
<text class="t" font-size="47.6" stroke-width="0.77" textLength="182.7" lengthAdjust="spacingAndGlyphs" transform="translate(2220.9 1556.4) rotate(-90) scale(0.506 1)">M16x2.0</text>
<text class="sq" font-size="40.6" x="2889.6" y="894.9">□</text>
<text class="t" font-size="47.6" stroke-width="0.77" textLength="79.5" lengthAdjust="spacingAndGlyphs" transform="translate(2915.2 899.1) scale(0.506 1)">142</text>
<text class="t" font-size="47.6" stroke-width="0.77" textLength="53" lengthAdjust="spacingAndGlyphs" transform="translate(2978 1241.1) scale(0.513 1)">12</text>
<text class="t" font-size="47.6" stroke-width="0.77" textLength="140.3" lengthAdjust="spacingAndGlyphs" transform="translate(3251.8 1108.5) scale(0.443 1)">P.C.D.</text>
<text class="t ph" font-size="36" text-anchor="middle" transform="translate(3353.9 1107.1) skewX(-10)" x="-2.8" y="-5.8">ϕ</text>
<text class="t" font-size="47.6" stroke-width="0.77" textLength="79.5" lengthAdjust="spacingAndGlyphs" transform="translate(3383.5 1108.5) scale(0.460 1)">165</text>
<text class="t" font-size="47.6" stroke-width="0.77" textLength="42.4" lengthAdjust="spacingAndGlyphs" transform="translate(2505.9 1722.3) scale(0.698 1)">4-</text>
<text class="t ph" font-size="36" text-anchor="middle" transform="translate(2547.1 1720.9) skewX(-10)" x="-2.8" y="-5.8">ϕ</text>
<text class="t" font-size="47.6" stroke-width="0.77" textLength="53" lengthAdjust="spacingAndGlyphs" transform="translate(2578.1 1722.3) scale(0.320 1)">11</text>
<text class="t ph" font-size="36" text-anchor="middle" transform="translate(3248.3 1720.9) skewX(-10)" x="-2.8" y="-5.8">ϕ</text>
<text class="t" font-size="47.6" stroke-width="0.77" textLength="79.5" lengthAdjust="spacingAndGlyphs" transform="translate(3275 1722.3) scale(0.490 1)">185</text>
<text class="c" font-size="46.5" text-anchor="middle" transform="translate(188.7 2095.4) scale(0.752 1)">速比</text>
<text class="c" font-size="46.5" text-anchor="middle" transform="translate(191.3 2162.1) scale(0.752 1)">额定扭距</text>
<text class="c" font-size="46.5" text-anchor="middle" transform="translate(191.3 2229.2) scale(0.752 1)">最大扭距</text>
<text class="c" font-size="46.5" text-anchor="middle" transform="translate(193.3 2295.7) scale(0.752 1)">额定输入转数</text>
<text class="c" font-size="46.5" text-anchor="middle" transform="translate(193.3 2362.7) scale(0.752 1)">最大输入转数</text>
<text class="c" font-size="46.5" text-anchor="middle" transform="translate(188.7 2429.8) scale(0.752 1)">回程间隙</text>
<text class="c" font-size="46.5" text-anchor="middle" transform="translate(863.5 2095.4) scale(0.752 1)">正常使用寿命</text>
<text class="c" font-size="46.5" text-anchor="middle" transform="translate(862 2162.1) scale(0.752 1)">传递效率</text>
<text class="c" font-size="46.5" text-anchor="middle" transform="translate(858.2 2229.2) scale(0.752 1)">噪音</text>
<text class="c" font-size="46.5" text-anchor="middle" transform="translate(861.5 2295.7) scale(0.752 1)">环境温度</text>
<text class="c" font-size="46.5" text-anchor="middle" transform="translate(859.7 2362.7) scale(0.752 1)">惯量</text>
<text class="c" font-size="46.5" text-anchor="middle" transform="translate(859.7 2429.8) scale(0.752 1)">重量</text>
<text class="t" font-size="57.1" stroke-width="1.30" textLength="209.6" lengthAdjust="spacingAndGlyphs" transform="translate(424.4 2092.4) scale(0.472 1)">1:3-1:10</text>
<text class="t" font-size="57.1" stroke-width="1.30" textLength="298.5" lengthAdjust="spacingAndGlyphs" transform="translate(442.1 2159.1) scale(0.534 1)">360-550Nm</text>
<text class="t" font-size="57.1" stroke-width="1.30" textLength="330.3" lengthAdjust="spacingAndGlyphs" transform="translate(434.2 2226.2) scale(0.515 1)">720-1100Nm</text>
<text class="t" font-size="57.1" stroke-width="1.30" textLength="254" lengthAdjust="spacingAndGlyphs" transform="translate(450.1 2292.7) scale(0.584 1)">3000r/min</text>
<text class="t" font-size="57.1" stroke-width="1.30" textLength="254" lengthAdjust="spacingAndGlyphs" transform="translate(449.7 2359.7) scale(0.592 1)">6000r/min</text>
<text class="t" font-size="57.1" stroke-width="1.30" textLength="254" lengthAdjust="spacingAndGlyphs" transform="translate(452.8 2426.8) scale(0.537 1)">3-5arcmin</text>
<text class="t" font-size="57.1" stroke-width="1.30" textLength="206.5" lengthAdjust="spacingAndGlyphs" transform="translate(1134.1 2092.4) scale(0.596 1)">20000 h</text>
<text class="t" font-size="57.1" stroke-width="1.30" textLength="114.3" lengthAdjust="spacingAndGlyphs" transform="translate(1158.1 2159.1) scale(0.577 1)">95%</text>
<text class="t" font-size="57.1" stroke-width="1.30" textLength="133.4" lengthAdjust="spacingAndGlyphs" transform="translate(1158.2 2226.2) scale(0.519 1)">65dB</text>
<text class="t" font-size="57.1" stroke-width="1.30" textLength="358.5" lengthAdjust="spacingAndGlyphs" transform="translate(1078.7 2293.7) scale(0.632 1)">-20°C- +90 °C</text>
<text class="c" font-size="72" text-anchor="middle" transform="translate(1671.5 2323.5) scale(0.63 1)">机</text>
<text class="c" font-size="72" text-anchor="middle" transform="translate(1739.9 2323.5) scale(0.63 1)">型</text>
<text class="c" font-size="72" text-anchor="middle" transform="translate(1668.5 2424.5) scale(0.6 1)">图</text>
<text class="c" font-size="72" text-anchor="middle" transform="translate(1735.5 2424.5) scale(0.63 1)">号</text>
<text class="t" font-size="79.3" stroke-width="2.55" textLength="1026.9" lengthAdjust="spacingAndGlyphs" transform="translate(1874.6 2314.2) scale(0.521 1)">PGH142-L1 42-180-215-M12</text>
<text class="t" font-size="84.7" stroke-width="2.85" textLength="1228.3" lengthAdjust="spacingAndGlyphs" transform="translate(1816.6 2418.8) scale(0.523 1)">RG0442SW-180190-060 190WZ</text>
<text class="c" font-size="72" text-anchor="middle" transform="translate(2584.3 2331.5) scale(0.697 1)">绘制日期</text>
<text class="c" font-size="72" text-anchor="middle" transform="translate(2788.1 2331.5) scale(0.69 1)">绘图</text>
<text class="t" font-size="76.1" stroke-width="2.37" textLength="381" lengthAdjust="spacingAndGlyphs" transform="translate(2473 2420.2) scale(0.490 1)">2023.09.21</text>
<text class="t" font-size="82.4" stroke-width="2.72" textLength="169.4" lengthAdjust="spacingAndGlyphs" transform="translate(2751 2418.4) scale(0.470 1)">CZH</text>
<text class="c" font-size="110" transform="translate(2899 2384.5) scale(0.714 1)">行星减速机外形图</text>
</g>
</svg></body></html>
